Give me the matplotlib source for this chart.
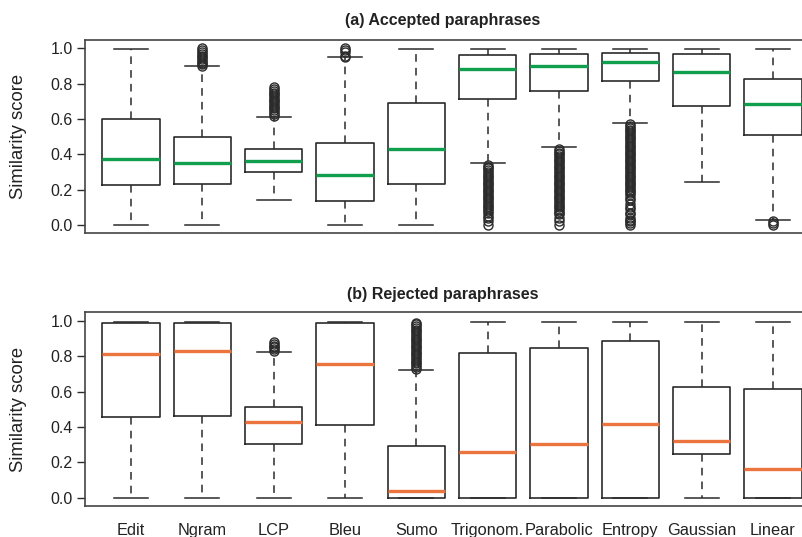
import matplotlib
matplotlib.use('Agg')
import matplotlib.pyplot as plt

plt.rcParams['font.family'] = ['Liberation Sans', 'DejaVu Sans']

LINE = '#2b2b2b'
GREEN = '#0f9f4d'
ORANGE = '#ec743f'

methods = ['Edit', 'Ngram', 'LCP', 'Bleu', 'Sumo', 'Trigonom.', 'Parabolic',
           'Entropy', 'Gaussian', 'Linear']

# (a) accepted: whisker low, Q1, median, Q3, whisker high
acc_low = [0.0, 0.0, 0.142, 0.0, 0.0, 0.35, 0.444, 0.58, 0.246, 0.028]
acc_q1 = [0.227, 0.233, 0.302, 0.138, 0.234, 0.715, 0.758, 0.817, 0.675, 0.507]
acc_med = [0.373, 0.353, 0.363, 0.284, 0.429, 0.881, 0.902, 0.926, 0.864, 0.686]
acc_q3 = [0.600, 0.500, 0.429, 0.463, 0.690, 0.964, 0.970, 0.977, 0.970, 0.828]
acc_high = [0.997, 0.898, 0.614, 0.949, 0.997, 0.997, 0.997, 0.997, 0.997, 0.997]
acc_out = [
    [],
    [0.90, 0.91, 0.92, 0.93, 0.94, 0.95, 0.96, 0.97, 0.98, 0.99, 1.0],
    [0.62, 0.63, 0.64, 0.65, 0.66, 0.67, 0.68, 0.69, 0.70, 0.71, 0.72,
     0.73, 0.74, 0.75, 0.76, 0.77, 0.78],
    [0.95, 0.96, 0.98, 0.99, 1.0],
    [],
    [0.0, 0.02, 0.04, 0.05, 0.07, 0.08, 0.09, 0.10, 0.11, 0.12, 0.13, 0.14,
     0.15, 0.16, 0.17, 0.18, 0.19, 0.20, 0.21, 0.22, 0.23, 0.24, 0.25, 0.26,
     0.27, 0.28, 0.29, 0.30, 0.31, 0.32, 0.33, 0.34],
    [0.0, 0.02, 0.04, 0.06, 0.07, 0.08, 0.09, 0.10, 0.11, 0.12, 0.13, 0.14,
     0.15, 0.16, 0.17, 0.18, 0.19, 0.20, 0.21, 0.22, 0.23, 0.24, 0.25, 0.26,
     0.27, 0.28, 0.29, 0.30, 0.31, 0.32, 0.33, 0.34, 0.35, 0.36, 0.37, 0.38,
     0.39, 0.40, 0.41, 0.42, 0.43],
    [0.0, 0.01, 0.02, 0.03, 0.04, 0.06, 0.07, 0.09, 0.10, 0.12, 0.14, 0.15,
     0.17, 0.18, 0.19, 0.20, 0.21, 0.22, 0.23, 0.24, 0.25, 0.26, 0.27, 0.28,
     0.29, 0.30, 0.31, 0.32, 0.33, 0.34, 0.35, 0.36, 0.37, 0.38, 0.39, 0.40,
     0.41, 0.42, 0.43, 0.44, 0.45, 0.46, 0.47, 0.48, 0.49, 0.50, 0.51, 0.52,
     0.53, 0.54, 0.55, 0.56, 0.57],
    [],
    [0.0, 0.01, 0.02],
]

# (b) rejected
rej_low = [0.0, 0.0, 0.0, 0.0, 0.0, 0.0, 0.0, 0.0, 0.0, 0.0]
rej_q1 = [0.458, 0.463, 0.307, 0.411, 0.0, 0.0, 0.0, 0.0, 0.247, 0.0]
rej_med = [0.812, 0.831, 0.428, 0.754, 0.040, 0.260, 0.307, 0.415, 0.322, 0.166]
rej_q3 = [0.985, 0.989, 0.514, 0.985, 0.292, 0.820, 0.847, 0.885, 0.627, 0.616]
rej_high = [0.991, 0.993, 0.825, 0.991, 0.725, 0.995, 0.995, 0.995, 0.995, 0.995]
rej_out = [
    [], [],
    [0.83, 0.84, 0.85, 0.86, 0.87, 0.88],
    [],
    [0.73, 0.74, 0.75, 0.76, 0.77, 0.78, 0.79, 0.80, 0.81, 0.82, 0.83, 0.84,
     0.85, 0.86, 0.87, 0.88, 0.89, 0.90, 0.91, 0.92, 0.93, 0.94, 0.95, 0.96,
     0.97, 0.98, 0.99],
    [], [], [], [], [],
]


def make_stats(low, q1, med, q3, high, out):
    stats = []
    for i in range(len(methods)):
        stats.append({'whislo': low[i], 'q1': q1[i], 'med': med[i],
                      'q3': q3[i], 'whishi': high[i], 'fliers': out[i],
                      'label': methods[i]})
    return stats


def draw_panel(ax, stats, med_color):
    ax.bxp(stats, positions=range(1, len(methods) + 1), widths=0.8,
           capwidths=0.48, showfliers=True,
           boxprops=dict(color=LINE, linewidth=1.2),
           whiskerprops=dict(color=LINE, linewidth=1.1, linestyle=(0, (5, 4))),
           capprops=dict(color=LINE, linewidth=1.1),
           medianprops=dict(color=med_color, linewidth=2.4),
           flierprops=dict(marker='o', markersize=6.5, markerfacecolor='none',
                           markeredgecolor=LINE, markeredgewidth=1.0))
    ax.set_xlim(0.355, 10.645)
    ax.set_ylim(-0.044, 1.048)
    ax.set_yticks([0.0, 0.2, 0.4, 0.6, 0.8, 1.0])
    ax.set_yticklabels(['0.0', '0.2', '0.4', '0.6', '0.8', '1.0'])
    ax.tick_params(axis='y', labelsize=11.5, length=6, width=1, color=LINE,
                   labelcolor='#222222', pad=3)
    ax.set_ylabel('Similarity score', fontsize=13.3, color='#222222')
    ax.yaxis.set_label_coords(-58 / (819 - 85), 0.5)
    for s in ax.spines.values():
        s.set_color('#444444')
        s.set_linewidth(1.2)


fig = plt.figure(figsize=(8.03, 5.37), dpi=100)
W, H = 803.0, 537.0
left = 85 / W
width = (819 - 85) / W
ax1 = fig.add_axes([left, 1 - 232.7 / H, width, (232.7 - 40) / H])
ax2 = fig.add_axes([left, 1 - 505.7 / H, width, (505.7 - 312.3) / H])

draw_panel(ax1, make_stats(acc_low, acc_q1, acc_med, acc_q3, acc_high, acc_out), GREEN)
draw_panel(ax2, make_stats(rej_low, rej_q1, rej_med, rej_q3, rej_high, rej_out), ORANGE)

ax1.set_xticks([])
ax2.tick_params(axis='x', length=0, labelsize=11.8, labelcolor='#222222', pad=12.5)

fig.text(443 / W, 1 - 20 / H, '(a) Accepted paraphrases', ha='center', va='center',
         fontsize=11.5, fontweight='bold', color='#222222')
fig.text(443 / W, 1 - 294 / H, '(b) Rejected paraphrases', ha='center', va='center',
         fontsize=11.5, fontweight='bold', color='#222222')

fig.savefig('out.png', dpi=100)
